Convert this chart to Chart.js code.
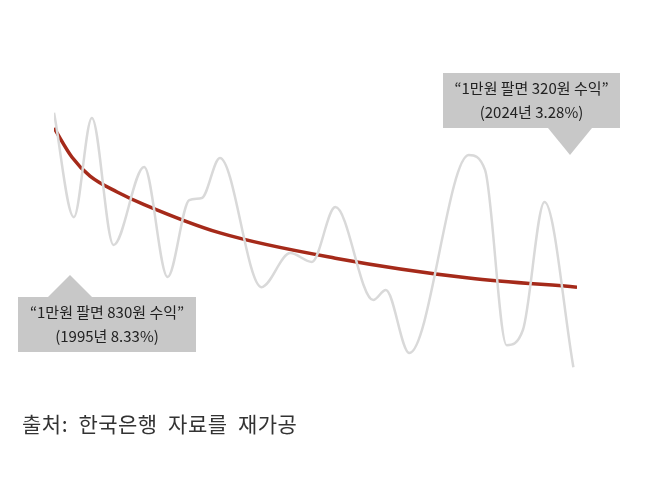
<!DOCTYPE html>
<html>
<head>
<meta charset="utf-8">
<script src="https://cdn.jsdelivr.net/npm/chart.js@4"></script>
<style>
  body { margin: 0; background: #fff; }
  #wrap { position: relative; width: 658px; height: 486px; }
  #src { position: absolute; left: 22px; top: 408px; font: 21px "Noto Sans CJK KR", sans-serif; color: #333; letter-spacing: 0.5px; }
</style>
</head>
<body>
<div id="wrap">
  <canvas id="c" width="658" height="486"></canvas>
  <div id="src">출처:&nbsp; 한국은행&nbsp; 자료를&nbsp; 재가공</div>
</div>
<script>
// yearly rate (%), grey = actual swings, red = trend
const greyYears = [1995, 1996.1, 1997.1, 1998.3, 2000.0, 2001.3, 2002.5, 2003.2, 2004.2, 2006.5, 2008.1, 2009.3, 2010.6, 2012.7, 2013.4, 2014.7, 2018.0, 2018.9, 2020.1, 2021.0, 2022.2, 2023.8];
const greyValues = [8.81, 5.50, 8.65, 4.62, 7.09, 3.60, 6.04, 6.11, 7.38, 3.28, 4.36, 4.08, 5.82, 2.87, 3.19, 1.19, 7.47, 7.0, 1.44, 1.92, 5.98, 0.74];
const trendYears = [1995, 1996, 1997, 1998.5, 2000, 2004.2, 2010.6, 2018, 2024];
const trendValues = [8.33, 7.4, 6.8, 6.3, 5.9, 5.0, 4.2, 3.57, 3.28];

const callouts = [
  { lines: ['“1만원 팔면 830원 수익”', '(1995년 8.33%)'], box: [18, 297, 178, 55], tip: [70, 275], up: true },
  { lines: ['“1만원 팔면 320원 수익”', '(2024년 3.28%)'], box: [443, 73, 177, 55], tip: [570, 155], up: false }
];

const calloutPlugin = {
  id: 'callouts',
  afterDatasetsDraw(chart) {
    const ctx = chart.ctx;
    ctx.save();
    callouts.forEach(c => {
      const [x, y, w, h] = c.box;
      ctx.fillStyle = '#c8c8c8';
      ctx.fillRect(x, y, w, h);
      ctx.beginPath();
      if (c.up) {
        ctx.moveTo(c.tip[0] - 22, y); ctx.lineTo(c.tip[0], c.tip[1]); ctx.lineTo(c.tip[0] + 22, y);
      } else {
        ctx.moveTo(c.tip[0] - 22, y + h); ctx.lineTo(c.tip[0], c.tip[1]); ctx.lineTo(c.tip[0] + 22, y + h);
      }
      ctx.fill();
      ctx.fillStyle = '#222';
      ctx.font = '15px "Noto Sans CJK KR", sans-serif';
      ctx.textAlign = 'center';
      ctx.textBaseline = 'middle';
      ctx.fillText(c.lines[0], x + w / 2, y + 15);
      ctx.fillText(c.lines[1], x + w / 2, y + 39);
    });
    ctx.restore();
  }
};

new Chart(document.getElementById('c'), {
  type: 'line',
  data: {
    datasets: [
      {
        data: greyYears.map((x, i) => ({ x, y: greyValues[i] })),
        borderColor: '#d9d9d9', borderWidth: 2.5, pointRadius: 0,
        cubicInterpolationMode: 'monotone'
      },
      {
        data: trendYears.map((x, i) => ({ x, y: trendValues[i] })),
        borderColor: '#a52a1a', borderWidth: 3.5, pointRadius: 0,
        cubicInterpolationMode: 'monotone'
      }
    ]
  },
  options: {
    responsive: false,
    animation: false,
    layout: { padding: { left: 54, right: 81, top: 0, bottom: 86 } },
    plugins: { legend: { display: false }, tooltip: { enabled: false } },
    scales: {
      x: { type: 'linear', min: 1995, max: 2024, display: false },
      y: { min: -0.3, max: 12.39, display: false }
    }
  },
  plugins: [calloutPlugin]
});
</script>
</body>
</html>
